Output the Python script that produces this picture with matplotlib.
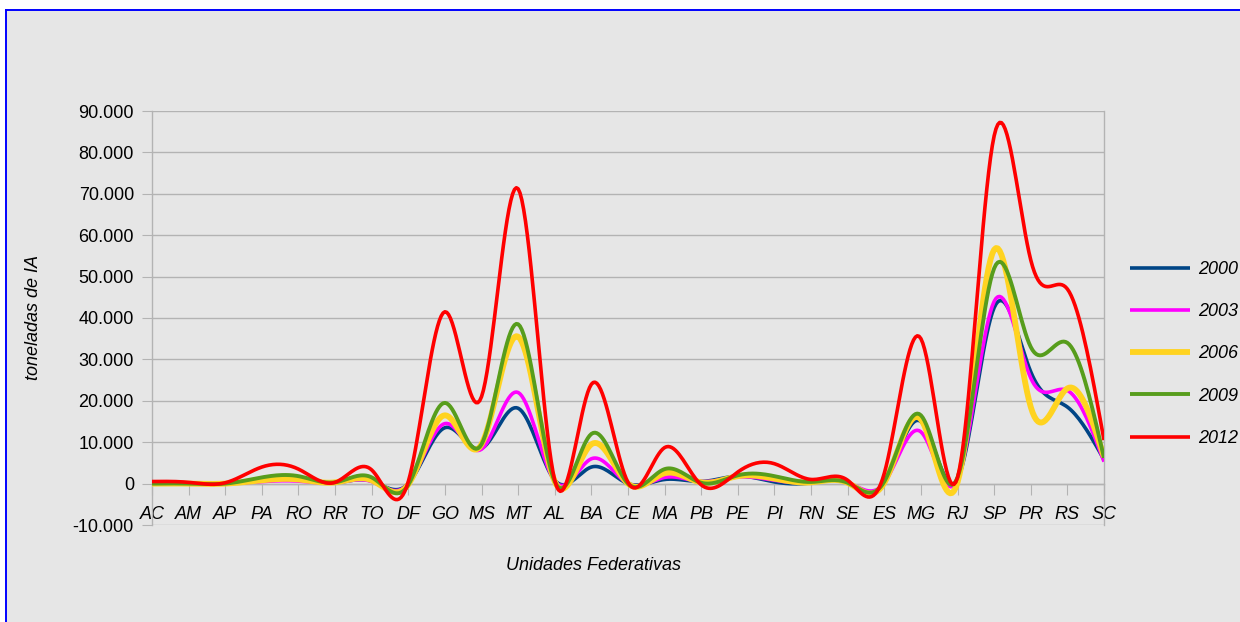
import numpy as np
import matplotlib
matplotlib.use("Agg")
import matplotlib.pyplot as plt
from matplotlib.ticker import FuncFormatter, FixedLocator
from matplotlib.patches import Rectangle
from matplotlib.lines import Line2D

plt.rcParams['font.family'] = ['Liberation Sans', 'DejaVu Sans']

categories = ["AC", "AM", "AP", "PA", "RO", "RR", "TO", "DF", "GO", "MS", "MT", "AL", "BA",
              "CE", "MA", "PB", "PE", "PI", "RN", "SE", "ES", "MG", "RJ", "SP", "PR", "RS", "SC"]

s2000 = [0, 0, 0, 600, 800, 200, 600, 0, 13500, 8500, 18200, 800, 4000, 0, 1000, 500,
         1800, 400, 200, 200, 200, 15000, 1000, 42500, 27000, 18500, 5800]
s2003 = [0, 0, 0, 500, 600, 200, 500, 0, 14500, 8300, 22000, 600, 6000, 0, 1500, 500,
         1600, 800, 300, 300, 200, 12500, 1000, 44000, 25500, 22500, 5300]
s2006 = [0, 0, 0, 800, 1000, 300, 800, -200, 16500, 9500, 35500, 500, 9500, 0, 2500, 300,
         1800, 1200, 300, 200, 200, 15500, 300, 56500, 18500, 23000, 6500]
s2009 = [0, 0, 0, 1500, 1800, 300, 1500, -300, 19500, 9500, 38500, 500, 12000, 0, 3500, 200,
         2000, 1800, 400, 200, 500, 16500, 1500, 52000, 33000, 34000, 6200]
s2012 = [500, 300, 200, 4000, 3500, 300, 3300, 500, 41500, 21000, 71200, 800, 24000, 300, 8700, -300,
         2800, 4800, 1000, 800, 2500, 35000, 1500, 84000, 54000, 47000, 10500]

series_names = ["2000", "2003", "2006", "2009", "2012"]
series_values = [s2000, s2003, s2006, s2009, s2012]
colors = ["#004586", "#ff00ff", "#ffd320", "#579d1c", "#ff0000"]
widths = [2.6, 2.6, 4.2, 2.8, 2.6]

y_ticks = list(range(-10000, 90001, 10000))


def natural_spline(x, y, n=20):
    x = np.asarray(x, float)
    y = np.asarray(y, float)
    m = len(x)
    h = np.diff(x)
    A = np.zeros((m, m))
    b = np.zeros(m)
    A[0, 0] = 1
    A[-1, -1] = 1
    for i in range(1, m - 1):
        A[i, i - 1] = h[i - 1]
        A[i, i] = 2 * (h[i - 1] + h[i])
        A[i, i + 1] = h[i]
        b[i] = 6 * ((y[i + 1] - y[i]) / h[i] - (y[i] - y[i - 1]) / h[i - 1])
    M = np.linalg.solve(A, b)
    xs, ys = [], []
    for i in range(m - 1):
        t = np.linspace(x[i], x[i + 1], n, endpoint=(i == m - 2))
        a = x[i + 1] - t
        c = t - x[i]
        yy = (M[i] * a ** 3 + M[i + 1] * c ** 3) / (6 * h[i]) \
            + (y[i] / h[i] - M[i] * h[i] / 6) * a + (y[i + 1] / h[i] - M[i + 1] * h[i] / 6) * c
        xs.append(t)
        ys.append(yy)
    return np.concatenate(xs), np.concatenate(ys)


W, H = 1240, 622
fig = plt.figure(figsize=(W / 100, H / 100), dpi=100)
fig.patch.set_facecolor("white")
bg = "#e6e6e6"
fig.patches.append(Rectangle((6 / W, 0), 1 - 6 / W, 1 - 10 / H, transform=fig.transFigure,
                             facecolor=bg, edgecolor="none", zorder=-10))
fig.lines.append(Line2D([6 / W, 1], [1 - 10 / H, 1 - 10 / H], transform=fig.transFigure,
                        color="#0000ff", lw=1.4))
fig.lines.append(Line2D([6 / W, 6 / W], [0, 1 - 10 / H], transform=fig.transFigure,
                        color="#0000ff", lw=1.4))

ax = fig.add_axes([152 / W, (H - 525) / H, (1104 - 152) / W, (525 - 111) / H])
ax.set_facecolor(bg)
x = np.arange(len(categories))
for name, vals, col, lw in zip(series_names, series_values, colors, widths):
    xs, ys = natural_spline(x, vals)
    ax.plot(xs, ys, color=col, lw=lw, label=name, solid_capstyle="butt", zorder=3)

ax.set_xlim(0, len(categories) - 1)
ax.set_ylim(-10000, 90000)
ax.yaxis.set_major_locator(FixedLocator(y_ticks))
ax.yaxis.set_major_formatter(FuncFormatter(lambda v, p: f"{v:,.0f}".replace(",", ".")))
ax.set_xticks(x)
ax.set_xticklabels(categories)
grid_c = "#b3b3b3"
ax.grid(axis="y", color=grid_c, lw=1.0, zorder=1)
for s in ["left", "right", "bottom"]:
    ax.spines[s].set_color(grid_c)
    ax.spines[s].set_linewidth(1.0)
ax.spines["top"].set_visible(False)
ax.spines["bottom"].set_position(("data", 0))
ax.tick_params(axis="x", direction="out", length=8, color=grid_c, labelsize=13, pad=8)
ax.tick_params(axis="y", direction="out", length=7, color=grid_c, labelsize=13, pad=6)
for lab in ax.get_xticklabels():
    lab.set_fontstyle("italic")

fig.text(594 / W, (H - 566) / H, "Unidades Federativas", ha="center", va="center",
         fontsize=13, fontstyle="italic")
fig.text(33 / W, (H - 317) / H, "toneladas de IA", ha="center", va="center",
         fontsize=13, fontstyle="italic", rotation=90)

leg = fig.legend(loc="center left", bbox_to_anchor=(1130 / W, (H - 354) / H),
                 frameon=False, fontsize=13, handlelength=3.3, handletextpad=0.45,
                 labelspacing=1.4, borderpad=0, borderaxespad=0)
for t in leg.get_texts():
    t.set_fontstyle("italic")

fig.savefig("out.png", dpi=100, facecolor=fig.get_facecolor())
